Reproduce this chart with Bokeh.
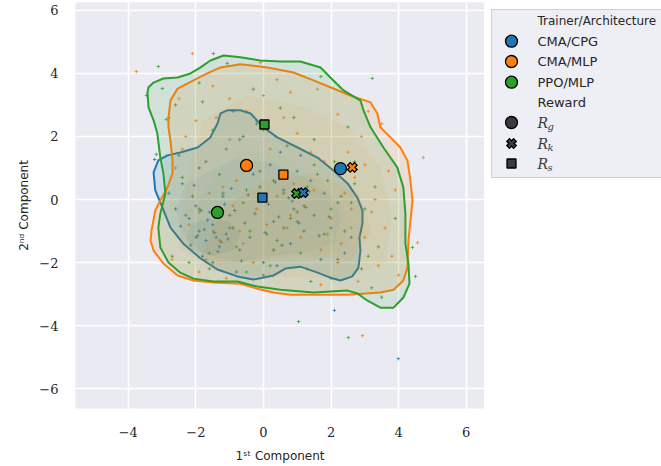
from bokeh.plotting import figure
from bokeh.layouts import row
from bokeh.models import Range1d, FixedTicker
from bokeh.core.properties import value
from bokeh.embed import file_html
from bokeh.resources import INLINE

# ---------------- data ----------------
trainers = ["CMA/CPG", "CMA/MLP", "PPO/MLP"]
colors = ["#1f77b4", "#ff7f0e", "#2ca02c"]
reward_subs = ["g", "k", "s"]

x_ticks = [-4, -2, 0, 2, 4, 6]
x_tick_labels = ["\u22124", "\u22122", "0", "2", "4", "6"]
y_ticks = [-6, -4, -2, 0, 2, 4, 6]
y_tick_labels = ["\u22126", "\u22124", "\u22122", "0", "2", "4", "6"]

# per-reward centroids (order: CMA/CPG, CMA/MLP, PPO/MLP)
rg_x = [2.28, -0.50, -1.36]
rg_y = [0.98, 1.08, -0.41]
rk_x = [1.18, 2.63, 0.98]
rk_y = [0.22, 1.02, 0.19]
rs_x = [-0.03, 0.59, 0.03]
rs_y = [0.06, 0.79, 2.38]

# individual samples
cpg_x = [-1.9, -1.7, -1.5, -1.3, -1.1, -2.2, -1.8, -1.4, -1.0, -0.7, -2.0, -1.6, -1.2, -0.9, -0.4,
         -0.1, 0.3, 0.6, 0.9, 1.2, 1.5, 1.8, 0.2, -0.3, 0.8, 1.4, 2.0, 2.4, -2.6, -2.4, 0.0, 0.5,
         1.0, -0.6, -1.9, -2.8, 1.7, 2.2, 0.4, -0.8, -1.5, 1.1, 2.6, -0.2, -3.22, 2.10, 3.99,
         -1.75, -1.45, -1.25, -1.95, -1.65, -1.35, -1.05, -0.85, -0.55, -0.25, 0.15, 0.45, 0.75,
         1.05, 1.35, 1.65, -2.15, -2.45, -0.95, -0.45, 0.05, 0.35, 0.85, 1.25, -1.15, -1.85, -0.65,
         0.55, 1.95, -2.05]
cpg_y = [-1.0, -1.3, -0.8, -1.5, -1.1, -0.6, -1.8, -1.2, -0.5, -1.6, -0.2, -0.4, 0.1, -0.9, -1.2,
         0.4, -0.7, 0.3, -0.3, -1.0, -0.5, 0.2, 1.1, 0.8, -1.4, 0.6, -0.9, -1.7, -0.3, 0.5, -2.0, 1.5,
         0.9, 2.0, 1.0, 0.2, -1.9, -0.1, -2.1, -2.3, -2.0, 1.4, -1.2, 2.5, 1.27, -3.52, -5.05,
         -0.95, -1.05, -1.35, -1.15, -0.65, -1.65, -1.25, -0.35, -0.75, -0.45, -0.15, -0.55, 0.05,
         -0.75, 0.25, -1.15, -1.45, -0.85, 0.35, 0.15, -1.05, 0.55, -0.05, -0.25, -0.15, -0.35,
         -1.95, -1.45, -0.55, 0.45]

cma_x = [-2.5, -2.0, -1.5, -1.0, -0.5, 0.0, 0.5, 1.0, 1.5, 2.0, 2.5, 3.0, 3.5, -2.2, -1.7, -1.2,
         -0.7, -0.2, 0.3, 0.8, 1.3, 1.8, 2.3, 2.8, 3.3, 3.8, -2.6, -1.9, -1.3, -0.8, -0.3, 0.2, 0.7,
         1.2, 1.7, 2.2, 2.7, 3.2, 3.7, -2.3, -1.1, 0.4, 1.6, 2.9, 4.0, -3.76, -2.10, -0.09, 4.73,
         4.56, 2.93,
         -1.6, -0.9, 0.1, 0.9, 1.9, 2.6, 3.4, -2.4, -1.4, -0.4, 0.6, 1.4, 2.4, 3.6, -1.9, -0.6,
         0.4, 1.1, 2.1, 3.0, -2.7, -1.0, 0.0, 1.7, 2.6, 3.9, -1.5, 0.8, 2.2, 3.1]
cma_y = [3.2, 2.5, 3.6, 1.9, 2.8, 3.3, 0.9, 2.1, 0.3, -0.6, 1.5, -1.2, 2.4, -0.8, -1.9, 0.4,
         -1.0, -0.3, -1.6, -0.5, -2.2, 1.2, -1.4, -2.6, 0.0, -1.8, 1.0, -2.3, -1.3, 0.6, -2.0, 1.6,
         -0.9, 0.1, -2.7, 2.7, 0.7, -0.4, 0.9, 2.0, -2.5, 3.8, 3.5, 2.0, -2.4, 4.06, 4.63, 4.35,
         1.33, -1.37, -4.32,
         0.2, -0.2, -0.8, 0.5, -1.1, -0.3, -2.1, 1.6, 2.6, 1.1, 2.6, 1.5, 0.2, -0.9, -0.4, -1.4,
         0.1, -1.2, 0.9, 1.1, -1.9, 3.2, 2.2, -1.6, -0.9, 0.3, -1.0, 3.4, -2.0, 2.8]

ppo_x = [-2.8, -2.3, -1.8, -1.3, -0.8, -0.3, 0.2, 0.7, 1.2, 1.7, 2.2, 2.7, 3.2, -2.5, -2.0, -1.5,
         -1.0, -0.5, 0.0, 0.5, 1.0, 1.5, 2.0, 2.5, 3.0, 3.5, -2.7, -2.1, -1.6, -1.1, -0.6, -0.1,
         0.4, 0.9, 1.4, 1.9, 2.4, 3.4, 3.9, -1.9, 0.6, 1.1, 2.1, -3.11, -1.48, 3.22, 4.41, 4.50,
         2.51, 1.04, -3.17, -2.99, -2.87, -3.46, -1.07,
         -1.9, -1.2, -0.4, 0.3, 1.0, 1.8, 2.6, 3.3, -2.4, -1.6, -0.7, 0.1, 0.8, 1.6, 2.3, 3.1,
         -2.2, -1.4, -0.2, 0.6, 1.3, 2.0, 2.9, -2.6, -0.9, 0.3, 1.5, 2.7, -1.7, -0.5]
ppo_y = [2.6, -0.5, 3.1, 0.8, -1.5, 3.5, -2.1, 1.7, -0.2, 3.9, -1.9, 0.5, -2.8, 1.4, -1.2, 2.2,
         -0.9, 0.3, -2.4, 2.9, -0.7, 1.1, -2.5, 2.3, -0.3, -3.1, -1.8, 0.1, -2.2, 1.6, -0.1, 0.9,
         -1.3, 2.6, -2.6, 0.6, -1.0, -1.5, -0.6, 3.7, 0.2, -1.7, 1.2, 4.22, 4.63, 3.84, -1.52,
         -2.44, -4.38, -3.87, 1.43, 3.52, 2.54, 3.30, 4.32,
         -0.3, 0.2, -1.0, 0.6, -0.4, -1.1, -0.1, 0.4, 0.7, -1.7, 1.9, -1.1, -0.6, 0.8, 0.1, -1.8,
         -2.0, -0.4, 2.4, -0.9, 0.4, -0.3, -2.2, 3.0, 2.8, -1.6, 1.9, 1.2, 1.2, -2.3]

# outer KDE contours
cpg_cx = [-1.36, -1.27, -1.07, -0.68, -0.38, 0.00, 0.41, 1.01, 1.60, 2.07, 2.49, 2.78, 2.93, 2.93,
          2.84, 2.87, 2.81, 2.63, 2.28, 1.98, 1.60, 1.09, 0.65, 0.30, -0.30, -0.77, -1.36, -1.86,
          -2.37, -2.75, -2.99, -3.20, -3.25, -3.11, -2.84, -2.46, -1.95, -1.57]
cpg_cy = [2.41, 2.73, 2.83, 2.83, 2.73, 2.29, 1.97, 1.65, 1.33, 0.92, 0.51, 0.06, -0.35, -0.76,
          -1.21, -1.62, -2.16, -2.44, -2.57, -2.48, -2.32, -2.13, -2.19, -2.41, -2.54, -2.44, -2.22,
          -1.87, -1.40, -0.89, -0.25, 0.29, 0.86, 1.24, 1.40, 1.49, 1.65, 1.97]

cma_cx = [-2.81, -2.75, -2.54, -2.07, -1.66, -1.27, -0.68, 0.12, 0.89, 1.48, 1.98, 2.57, 3.17,
          3.37, 3.46, 3.76, 4.05, 4.26, 4.35, 4.41, 4.35, 4.29, 4.26, 4.14, 3.85, 3.46, 2.49, 1.48,
          0.80, 0.30, -0.18, -0.68, -1.48, -2.07, -2.54, -2.96, -3.25, -3.34, -3.31, -3.20, -3.05,
          -2.84, -2.69, -2.69, -2.75, -2.81]
cma_cy = [2.60, 3.14, 3.52, 3.78, 4.00, 4.19, 4.29, 4.19, 4.03, 3.78, 3.56, 3.30, 3.08, 2.73,
          2.29, 1.97, 1.65, 1.24, 0.60, -0.03, -0.67, -1.30, -2.16, -2.57, -2.86, -2.95, -3.02,
          -3.02, -3.02, -2.95, -2.83, -2.67, -2.63, -2.57, -2.41, -2.03, -1.62, -1.30, -0.98, -0.35,
          -0.03, 0.38, 0.83, 1.24, 1.87, 2.29]

ppo_cx = [-3.43, -3.40, -3.25, -2.96, -2.54, -2.16, -1.86, -1.57, -1.18, -0.68, -0.09, 0.50, 1.09,
          1.69, 1.98, 2.37, 2.87, 2.96, 3.17, 3.55, 3.96, 4.14, 4.20, 4.20, 4.29, 4.32, 4.14, 3.85,
          3.46, 3.08, 2.78, 2.49, 1.48, 0.50, -0.18, -0.77, -1.48, -2.07, -2.46, -2.81, -3.05,
          -3.11, -3.05, -2.90, -2.96, -3.05, -3.14, -3.25, -3.40]
ppo_cy = [3.40, 3.56, 3.71, 3.84, 3.87, 4.00, 4.19, 4.41, 4.57, 4.51, 4.41, 4.38, 4.38, 4.19,
          3.87, 3.46, 3.14, 2.83, 2.29, 1.65, 1.02, 0.38, -0.44, -1.40, -2.03, -2.67, -3.11, -3.43,
          -3.43, -3.21, -2.98, -2.89, -2.95, -2.86, -2.76, -2.60, -2.60, -2.51, -2.32, -2.00, -1.52,
          -0.89, -0.44, 0.19, 0.83, 1.33, 2.10, 2.51, 2.92]

# inner KDE levels
cpg_l2x = [-2.6, -2.3, -1.6, -0.8, 0.2, 1.2, 2.0, 2.3, 2.1, 1.2, 0.2, -0.8, -1.8, -2.4]
cpg_l2y = [-0.3, 0.5, 0.9, 1.3, 1.2, 0.7, 0.1, -0.6, -1.4, -1.7, -1.8, -2.0, -1.7, -1.1]
cpg_l3x = [-2.3, -2.1, -1.6, -1.0, -0.7, -0.9, -1.5, -2.1]
cpg_l3y = [-1.2, -0.75, -0.6, -0.7, -1.1, -1.6, -1.8, -1.6]
cma_l2x = [-2.5, -2.3, -1.8, -0.5, 1.0, 2.5, 3.5, 3.8, 3.6, 2.5, 0.5, -1.5]
cma_l2y = [-1.5, 0.5, 2.5, 3.3, 3.0, 2.3, 1.0, -0.5, -2.0, -2.5, -2.5, -2.3]
cma_l3x = [-1.8, -1.2, 0.0, 1.5, 2.8, 3.2, 2.6, 1.0, -0.5, -1.5]
cma_l3y = [-1.7, -0.3, 0.6, 0.8, 0.2, -1.0, -1.9, -1.8, -2.0, -2.1]
ppo_l2x = [-2.8, -2.7, -2.5, -1.2, 0.5, 2.0, 3.4, 3.9, 3.8, 2.5, 0.0, -2.0]
ppo_l2y = [-1.2, 1.0, 3.0, 3.8, 3.8, 2.8, 1.0, -1.0, -2.8, -2.5, -2.4, -2.2]
ppo_l3x = [-2.2, -1.8, -0.8, 0.5, 1.8, 2.6, 2.4, 1.2, -0.5, -1.6]
ppo_l3y = [-1.5, 0.3, 1.5, 1.5, 0.5, -0.6, -1.6, -2.0, -2.0, -2.0]

# ---------------- main figure ----------------
TXT = "#262626"
p = figure(width=484, height=466, output_backend="svg", toolbar_location=None,
           x_range=Range1d(-5.56, 6.54), y_range=Range1d(-6.63, 6.25),
           min_border_left=75, min_border_right=0, min_border_top=2, min_border_bottom=58,
           background_fill_color="#eaeaf2", border_fill_color="white")
p.outline_line_color = None
p.grid.grid_line_color = "white"
p.grid.grid_line_width = 1.6
p.xaxis.ticker = FixedTicker(ticks=x_ticks)
p.yaxis.ticker = FixedTicker(ticks=y_ticks)
p.xaxis.major_label_overrides = dict(zip(x_ticks, x_tick_labels))
p.yaxis.major_label_overrides = dict(zip(y_ticks, y_tick_labels))
for ax in (p.xaxis, p.yaxis):
    ax.axis_line_color = None
    ax.major_tick_line_color = None
    ax.minor_tick_line_color = None
    ax.major_tick_out = 0
    ax.major_tick_in = 0
    ax.minor_tick_out = 0
    ax.major_label_text_font = "DejaVu Serif"
    ax.major_label_text_font_size = "13px"
    ax.major_label_text_color = TXT
    ax.axis_label_text_font = "DejaVu Sans"
    ax.axis_label_text_font_size = "12px"
    ax.axis_label_text_font_style = "normal"
    ax.axis_label_text_color = TXT
p.xaxis.major_label_standoff = 18
p.yaxis.major_label_standoff = 17
p.xaxis.axis_label = "1\u02e2\u1d57 Component"
p.yaxis.axis_label = "2\u207f\u1d48 Component"
p.xaxis.axis_label_standoff = 9
p.yaxis.axis_label_standoff = 5

samples = [(cpg_x, cpg_y), (cma_x, cma_y), (ppo_x, ppo_y)]
outer = [(cpg_cx, cpg_cy), (cma_cx, cma_cy), (ppo_cx, ppo_cy)]
lvl2 = [(cpg_l2x, cpg_l2y), (cma_l2x, cma_l2y), (ppo_l2x, ppo_l2y)]
lvl3 = [(cpg_l3x, cpg_l3y), (cma_l3x, cma_l3y), (ppo_l3x, ppo_l3y)]
outer_alpha = [0.14, 0.12, 0.13]
inner_alpha = [0.07, 0.06, 0.015]

for c, (sx, sy) in zip(colors, samples):
    p.scatter(sx, sy, marker="cross", size=3.5, line_color=c, line_width=1, line_alpha=0.75)

for i, c in enumerate(colors):
    ox, oy = outer[i]
    p.patch(ox, oy, fill_color=c, fill_alpha=outer_alpha[i], line_color=c, line_width=2)
    p.patch(*lvl2[i], fill_color=c, fill_alpha=inner_alpha[i], line_color=None)
    p.patch(*lvl3[i], fill_color=c, fill_alpha=inner_alpha[i] * 1.4, line_color=None)

p.scatter(rg_x, rg_y, marker="circle", size=12, fill_color=colors, line_color="black", line_width=1.3)
p.scatter(rs_x, rs_y, marker="square", size=9, fill_color=colors, line_color="black", line_width=1.3)
for i in [2, 1, 0]:
    p.scatter([rk_x[i]], [rk_y[i]], marker="x", size=11, line_color="black", line_width=5)
    p.scatter([rk_x[i]], [rk_y[i]], marker="x", size=8.5, line_color=colors[i], line_width=2.5)

# ---------------- legend panel ----------------
# its frame is aligned with the main plot's frame (page rows 2..408), so use page pixels
q = figure(width=177, height=466, output_backend="svg", toolbar_location=None,
           x_range=Range1d(0, 177), y_range=Range1d(408, 2),
           x_axis_location=None, y_axis_location=None, min_border=0,
           min_border_top=2, min_border_bottom=58,
           background_fill_color="white", border_fill_color="white")
q.outline_line_color = None
q.grid.visible = False

rows_y = [20.7, 40.7, 61.0, 81.7, 102.0, 122.0, 143.0, 163.0]
q.quad(left=[7], right=[177], top=[9], bottom=[177], fill_color="#eaeaf2", fill_alpha=0.8,
       line_color="#cfcfcf", line_width=1)
q.text(x=[53], y=[rows_y[0]], text=["Trainer/Architecture"],
       text_font=value("DejaVu Sans"), text_font_size="12px", text_baseline="middle",
       text_color=TXT)
q.text(x=[53] * 4, y=rows_y[1:5], text=trainers + ["Reward"],
       text_font=value("DejaVu Sans"), text_font_size="13px", text_baseline="middle",
       text_color=TXT)
q.scatter([27] * 3, rows_y[1:4], marker="circle", size=12, fill_color=colors,
          line_color="black", line_width=1.3)
q.scatter([27], [rows_y[5]], marker="circle", size=12, fill_color="#3b3b3b", line_color="black", line_width=1.3)
q.scatter([27], [rows_y[6]], marker="x", size=11, line_color="black", line_width=5)
q.scatter([27], [rows_y[6]], marker="x", size=8.5, line_color="#3b3b3b", line_width=2.5)
q.scatter([27], [rows_y[7]], marker="square", size=9, fill_color="#3b3b3b", line_color="black", line_width=1.3)
q.text(x=[53] * 3, y=rows_y[5:8], text=["R"] * 3, text_font=value("DejaVu Serif"),
       text_font_style="italic", text_font_size="14px", text_baseline="middle", text_color="#3a3a3a")
q.text(x=[63] * 3, y=[v + 4 for v in rows_y[5:8]], text=reward_subs, text_font=value("DejaVu Serif"),
       text_font_style="italic", text_font_size="10px", text_baseline="middle", text_color="#3a3a3a")

layout = row(p, q)
open("out.html", "w").write(file_html(layout, INLINE))
